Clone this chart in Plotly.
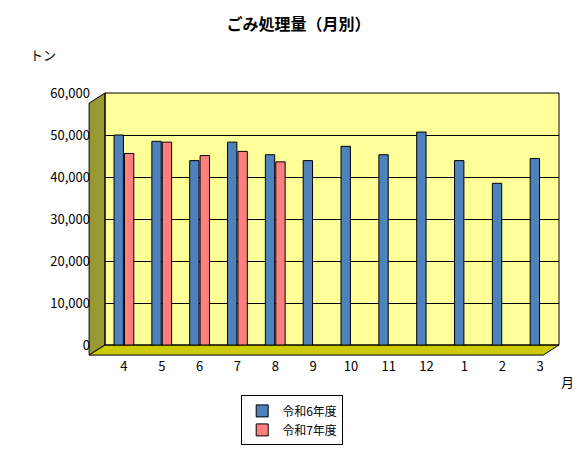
import plotly.graph_objects as go

months = ["4", "5", "6", "7", "8", "9", "10", "11", "12", "1", "2", "3"]
r6 = [50000, 48500, 43900, 48300, 45300, 43900, 47300, 45300, 50700, 43900, 38500, 44400]
r7 = [45600, 48300, 45100, 46100, 43600, None, None, None, None, None, None, None]

font = "Noto Sans CJK JP"

fig = go.Figure()
fig.add_trace(go.Bar(x=months, y=r6, name="令和6年度",
                     marker=dict(color="#4F81BD", line=dict(color="black", width=1))))
fig.add_trace(go.Bar(x=months, y=r7, name="令和7年度",
                     marker=dict(color="#FF7F7F", line=dict(color="black", width=1))))

fig.update_layout(
    width=581, height=449,
    margin=dict(l=97, r=30, t=85, b=108),
    paper_bgcolor="white", plot_bgcolor="#FFFF99",
    barmode="group", bargap=0.45, bargroupgap=0.1,
    font=dict(family=font, size=13, color="black"),
    title=dict(text="<b>ごみ処理量（月別）</b>", x=0.5, y=0.975, xanchor="center",
               font=dict(size=16)),
    xaxis=dict(showline=False, ticks="", tickfont=dict(size=13),
               ticklabelstandoff=12),
    yaxis=dict(range=[0, 60000], dtick=10000, tickformat=",",
               gridcolor="black", gridwidth=1, showline=False, ticks="",
               tickfont=dict(size=13), zeroline=False, ticklabelstandoff=14),
    legend=dict(orientation="v", x=0.3, xanchor="left", y=-0.2, yanchor="top",
                bordercolor="black", borderwidth=1, bgcolor="white",
                font=dict(size=12), itemwidth=30, tracegroupgap=2),
    shapes=[
        # left wall
        dict(type="path", xref="paper", yref="paper", layer="below",
             path="M -0.035,-0.04 L 0,0 L 0,1 L -0.035,0.96 Z",
             fillcolor="#999933", line=dict(color="black", width=1)),
        # floor
        dict(type="path", xref="paper", yref="paper", layer="below",
             path="M -0.035,-0.04 L 0.965,-0.04 L 1,0 L 0,0 Z",
             fillcolor="#CCCC00", line=dict(color="black", width=1)),
        dict(type="rect", xref="paper", yref="paper", layer="below",
             x0=0, x1=1, y0=0, y1=1, line=dict(color="black", width=1)),
    ],
    annotations=[
        dict(text="トン", xref="paper", yref="paper", x=-0.17, y=1.2,
             showarrow=False, xanchor="left", font=dict(size=13)),
        dict(text="月", xref="paper", yref="paper", x=1.0, y=-0.1,
             showarrow=False, xanchor="left", yanchor="top", font=dict(size=13)),
    ],
)

fig.write_html("out.html")
